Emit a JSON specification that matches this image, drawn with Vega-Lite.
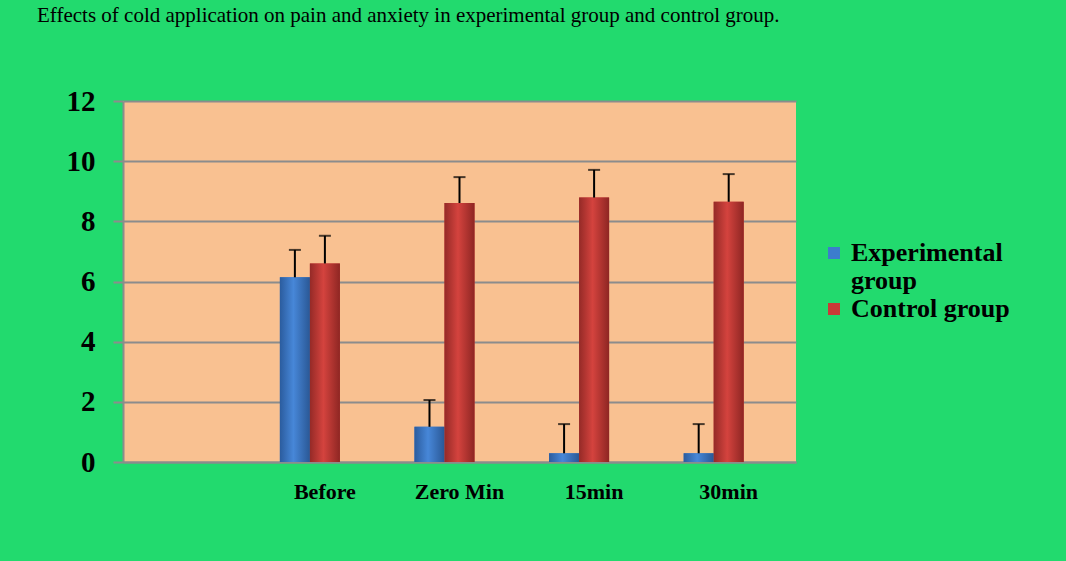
{
  "$schema": "https://vega.github.io/schema/vega-lite/v6.json",
  "width": 673,
  "height": 361,
  "autosize": {"type": "none"},
  "padding": {"left": 123, "top": 101, "right": 270, "bottom": 99},
  "background": "#22DA6E",
  "title": {
    "text": "Effects of cold application on pain and anxiety in experimental group and control group.",
    "anchor": "start",
    "frame": "group",
    "dx": -86,
    "offset": 61,
    "font": "Liberation Serif",
    "fontSize": 21,
    "fontWeight": "normal",
    "color": "black"
  },
  "config": {
    "view": {"fill": "#F9C191", "stroke": null}
  },
  "data": {
    "values": [
      {"time": "Before", "group": "Experimental group", "value": 6.14, "upper": 7.05},
      {"time": "Before", "group": "Control group", "value": 6.6, "upper": 7.52},
      {"time": "Zero Min", "group": "Experimental group", "value": 1.17, "upper": 2.06},
      {"time": "Zero Min", "group": "Control group", "value": 8.61, "upper": 9.47},
      {"time": "15min", "group": "Experimental group", "value": 0.29, "upper": 1.26},
      {"time": "15min", "group": "Control group", "value": 8.79, "upper": 9.71},
      {"time": "30min", "group": "Experimental group", "value": 0.29, "upper": 1.26},
      {"time": "30min", "group": "Control group", "value": 8.65, "upper": 9.57}
    ]
  },
  "encoding": {
    "x": {
      "field": "time",
      "type": "nominal",
      "scale": {"domain": [" ", "Before", "Zero Min", "15min", "30min"], "paddingInner": 0.331, "paddingOuter": 0.1655},
      "axis": {
        "title": null,
        "ticks": false,
        "grid": false,
        "domainColor": "#8C8C8C",
        "domainWidth": 2,
        "labelFont": "Liberation Serif",
        "labelFontSize": 22,
        "labelFontWeight": "bold",
        "labelColor": "black",
        "labelPadding": 19,
        "labelAngle": 0
      }
    },
    "xOffset": {
      "field": "group",
      "type": "nominal",
      "scale": {"domain": ["Experimental group", "Control group", "(none)"], "paddingInner": 0, "paddingOuter": 0}
    }
  },
  "layer": [
    {
      "mark": {"type": "bar"},
      "encoding": {
        "y": {
          "field": "value",
          "type": "quantitative",
          "scale": {"domain": [0, 12], "nice": false},
          "axis": {
            "title": null,
            "values": [0, 2, 4, 6, 8, 10, 12],
            "grid": true,
            "gridColor": "#8C8C8C",
            "gridWidth": 2,
            "domainColor": "#8C8C8C",
            "domainWidth": 2,
            "tickColor": "#8C8C8C",
            "tickWidth": 2,
            "tickSize": 10,
            "labelFont": "Liberation Serif",
            "labelFontSize": 29,
            "labelFontWeight": "bold",
            "labelColor": "black",
            "labelPadding": 18
          }
        },
        "color": {
          "field": "group",
          "type": "nominal",
          "scale": {"domain": ["Experimental group", "Control group"], "range": ["#3C7DCD", "#C93B37"]},
          "legend": {
            "title": null,
            "orient": "none",
            "legendX": 698,
            "legendY": 139,
            "padding": 0,
            "symbolType": "square",
            "symbolSize": 144,
            "symbolStrokeWidth": 0,
            "symbolOpacity": 1,
            "labelFont": "Liberation Serif",
            "labelFontSize": 26,
            "labelFontWeight": "bold",
            "labelColor": "black",
            "labelLimit": 400,
            "labelOffset": 4,
            "labelExpr": "datum.label == 'Experimental group' ? ['Experimental', 'group'] : datum.label"
          }
        }
      }
    },
    {
      "transform": [{"filter": "datum.group == 'Experimental group'"}],
      "mark": {
        "type": "bar",
        "color": {
          "gradient": "linear", "x1": 0, "x2": 1, "y1": 0, "y2": 0,
          "stops": [
            {"offset": 0, "color": "#2B5C9E"},
            {"offset": 0.45, "color": "#4787D8"},
            {"offset": 1, "color": "#2A5896"}
          ]
        }
      },
      "encoding": {"y": {"field": "value", "type": "quantitative"}}
    },
    {
      "transform": [{"filter": "datum.group == 'Control group'"}],
      "mark": {
        "type": "bar",
        "color": {
          "gradient": "linear", "x1": 0, "x2": 1, "y1": 0, "y2": 0,
          "stops": [
            {"offset": 0, "color": "#952A27"},
            {"offset": 0.45, "color": "#D4433E"},
            {"offset": 1, "color": "#8E2623"}
          ]
        }
      },
      "encoding": {"y": {"field": "value", "type": "quantitative"}}
    },
    {
      "mark": {"type": "rule", "color": "black", "strokeWidth": 2},
      "encoding": {
        "y": {"field": "value", "type": "quantitative"},
        "y2": {"field": "upper"}
      }
    },
    {
      "mark": {"type": "tick", "color": "black", "thickness": 2, "size": 12},
      "encoding": {"y": {"field": "upper", "type": "quantitative"}}
    }
  ]
}
